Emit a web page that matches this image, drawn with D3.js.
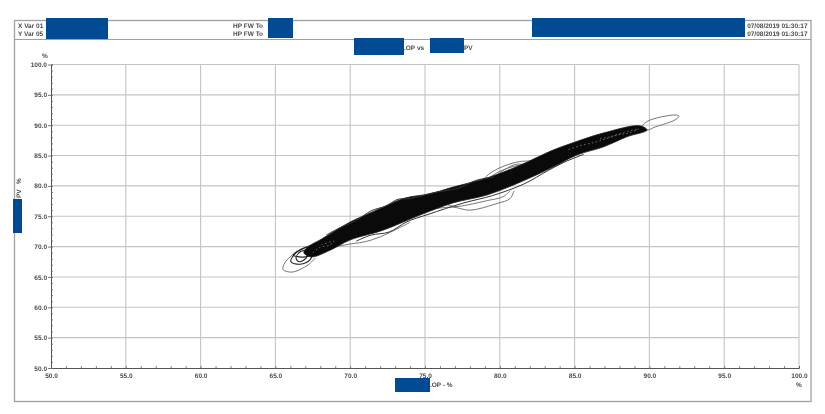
<!DOCTYPE html>
<html><head><meta charset="utf-8">
<script src="https://cdn.jsdelivr.net/npm/d3@7"></script>
<style>html,body{margin:0;padding:0;background:#fff;overflow:hidden}
svg{display:block;filter:blur(.55px) grayscale(0)}
text{font-family:"Liberation Sans",Arial,sans-serif;font-size:6.5px;font-weight:700;fill:#4a4a4a;white-space:pre;text-rendering:geometricPrecision}</style>
</head><body><svg id="c" width="825" height="414"></svg>
<script>
const xTickValues=[50,55,60,65,70,75,80,85,90,95,100];
const yTickValues=[50,55,60,65,70,75,80,85,90,95,100];
const minorTicks=d3.range(50,101,1);
const xVarText="X Var 01", yVarText="Y Var 05", tagText="HP FW To", stampText="07/08/2019 01:30:17";
// dense core of the trace: upper and lower envelope [x, y]
const bandUpper=[[66.9,69.0],[67.2,70.0],[67.98,71.1],[69.0,72.6],[69.99,74.05],[71.1,75.3],[72.19,76.5],[73.66,78.0],[75.33,78.7],[76.87,79.8],[79.14,81.3],[81.35,83.4],[83.56,85.9],[84.89,87.1],[86.9,88.7],[89.37,89.9]];
const bandLower=[[67.4,68.3],[68.65,69.4],[69.99,71.1],[72.19,72.7],[74.67,75.2],[76.87,77.2],[79.14,78.5],[81.35,80.6],[83.56,83.1],[85.16,85.1],[86.9,86.4],[88.5,88.1],[89.84,89.2]];
// individual excursions visible outside the band
const loopLowOuter=[[67.65,68.1],[67.18,66.97],[66.11,65.8],[65.51,66.2],[65.51,66.64],[65.7,67.6],[65.98,68.3],[66.44,69.3]];
const swirlA=[[66.04,67.5],[66.31,68.8],[66.98,69.8],[67.5,69.5],[67.31,67.8],[66.64,67.1]];
const swirlB=[[66.38,68.1],[66.64,69.1],[67.18,69.4],[67.05,68.1],[66.58,67.5]];
const swirlC=[[66.2,68.6],[66.8,69.6],[67.4,70.1],[67.7,69.2],[67.2,68.4],[66.6,68.3]];
const tipHigh=[[89.5,89.7],[89.91,90.7],[91.71,91.68],[91.98,91.5],[91.71,90.86],[90.37,89.7],[89.84,89.2]];
const loopUpperMid=[[78.8,80.8],[79.3,82.0],[80.2,83.2],[81.3,84.0],[82.2,84.2],[82.9,85.0],[83.6,85.3],[84.4,85.6]];
const loopUpperMid2=[[79.2,81.2],[80.0,82.4],[80.9,83.2],[81.8,83.6],[82.6,84.0],[83.2,84.9]];
const loopUpperMid3=[[79.7,81.6],[80.4,82.8],[81.2,83.6],[81.9,83.2],[81.0,82.6]];
const loopLowerMid=[[75.5,76.2],[76.87,76.5],[78.0,76.0],[79.81,77.1],[80.68,77.9],[80.95,79.2]];
const loopLowerMid2=[[76.4,77.0],[77.0,76.6],[77.9,76.9],[79.2,77.6],[80.2,78.2],[80.7,79.2]];
const loopLower70=[[69.0,70.0],[70.2,70.5],[71.0,70.8],[72.0,71.6],[73.2,73.0],[74.0,74.0]];
// strands along the band edges, which are rough rather than smooth
const edgeTop=[[68.4,71.9],[69.3,73.1],[70.4,74.3],[71.4,75.9],[72.4,76.7],[73.2,77.8],[74.0,77.9],[75.6,78.9],[77.2,79.6],[78.4,80.9],[79.6,81.5]];
const edgeBottom=[[70.4,70.9],[71.4,71.9],[72.6,72.4],[73.8,74.1],[75.2,75.3],[77.6,77.2],[79.5,78.4],[81.6,80.3],[83.2,82.5],[84.3,83.9],[85.6,85.2]];
// lighter traces that show through the sparse ends of the band
const speckleHigh=[[84.6,86.0],[85.5,86.7],[86.4,87.2],[87.0,87.7],[87.9,88.4],[88.6,88.7],[89.3,89.4],[88.4,88.9],[87.4,88.1],[86.6,87.7]];
const speckleLow=[[67.5,69.0],[68.0,69.9],[68.6,70.2],[68.9,70.9],[68.1,70.3]];

const svg=d3.select("#c");
const x=d3.scaleLinear().domain([50,100]).range([51,799]);
const y=d3.scaleLinear().domain([50,100]).range([368,64.5]);

// frame
svg.append("rect").attr("x",14.5).attr("y",20.5).attr("width",796.5).attr("height",381).attr("fill","#fff").attr("stroke","#a0a0a0").attr("stroke-width",1.3);
svg.append("line").attr("x1",14.5).attr("x2",811).attr("y1",39.5).attr("y2",39.5).attr("stroke","#a0a0a0");

// grid
const grid=svg.append("g").attr("stroke","#c4c4c4").attr("stroke-width",1.1);
xTickValues.slice(1).forEach(v=>grid.append("line").attr("x1",x(v)).attr("x2",x(v)).attr("y1",y(100)).attr("y2",y(50)));
yTickValues.slice(1).forEach(v=>grid.append("line").attr("x1",x(50)).attr("x2",x(100)).attr("y1",y(v)).attr("y2",y(v)));

// axes
const ax=svg.append("g").attr("transform",`translate(0,${y(50)})`)
 .call(d3.axisBottom(x).tickValues(minorTicks).tickSize(-2).tickFormat(""));
const ay=svg.append("g").attr("transform",`translate(${x(50)},0)`)
 .call(d3.axisLeft(y).tickValues(minorTicks).tickSize(-2).tickFormat(""));
[ax,ay].forEach(g=>{g.selectAll("line").attr("stroke","#666").attr("stroke-width",.8);g.select(".domain").attr("stroke","#555").attr("stroke-width",1)});
const axL=svg.append("g").attr("transform",`translate(0,${y(50)})`)
 .call(d3.axisBottom(x).tickValues(xTickValues).tickSize(0).tickPadding(5).tickFormat(d3.format(".1f")));
const ayL=svg.append("g").attr("transform",`translate(${x(50)},0)`)
 .call(d3.axisLeft(y).tickValues(yTickValues).tickSize(3).tickPadding(1).tickFormat(d3.format(".1f")));
[axL,ayL].forEach(g=>{g.select(".domain").remove();g.selectAll("line").attr("stroke","#555").attr("stroke-width",.8);g.selectAll("text").attr("font-size",null)});

// trace
const open=d3.line().x(d=>x(d[0])).y(d=>y(d[1])).curve(d3.curveCatmullRom);
const closedLine=d3.line().x(d=>x(d[0])).y(d=>y(d[1])).curve(d3.curveCatmullRomClosed);
[loopLowOuter,loopUpperMid,loopUpperMid2,loopUpperMid3,loopLowerMid,loopLowerMid2,loopLower70].forEach(s=>
 svg.append("path").attr("d",open(s)).attr("fill","none").attr("stroke","#666").attr("stroke-width",.9));
[swirlA,swirlB,swirlC].forEach(s=>
 svg.append("path").attr("d",closedLine(s)).attr("fill","none").attr("stroke","#222").attr("stroke-width",1.1));
svg.append("path").attr("d",closedLine(tipHigh)).attr("fill","none").attr("stroke","#666").attr("stroke-width",.9);
svg.append("path").attr("d",closedLine([...bandUpper,...bandLower.slice().reverse()]))
 .attr("fill","#0a0a0a").attr("stroke","#222").attr("stroke-width",.8);
[edgeTop,edgeBottom].forEach(s=>
 svg.append("path").attr("d",open(s)).attr("fill","none").attr("stroke","#333").attr("stroke-width",1));
[speckleHigh,speckleLow].forEach(s=>
 svg.append("path").attr("d",open(s)).attr("fill","none").attr("stroke","#888").attr("stroke-width",.8).attr("stroke-dasharray","1.5 2.5"));

// labels
const t=(s,px,py,a="start")=>svg.append("text").attr("x",px).attr("y",py).attr("text-anchor",a).text(s);
t(xVarText,18,27.5); t(yVarText,18,35.5);
t(tagText,233,27.5); t(tagText,233,35.5);
t(stampText,807.5,27.5,"end"); t(stampText,807.5,35.5,"end");
t(".OP vs",404,50); t("PV",464,50);
t("%",45,58,"middle");
t(".OP - %",430,387);
t("%",799,387,"middle");
svg.append("text").attr("transform","translate(20.5,198) rotate(-90)").text("PV   %");

// redaction blocks
const blocks=[[46,18,62,21],[268,18,25,20],[532,18,213,19],[354,38,50,17],[430,38,34,15],[395,378,35,14],[13,199,9,34]];
svg.append("g").selectAll("rect").data(blocks).join("rect")
 .attr("x",d=>d[0]).attr("y",d=>d[1]).attr("width",d=>d[2]).attr("height",d=>d[3]).attr("fill","#004b93");
</script></body></html>
